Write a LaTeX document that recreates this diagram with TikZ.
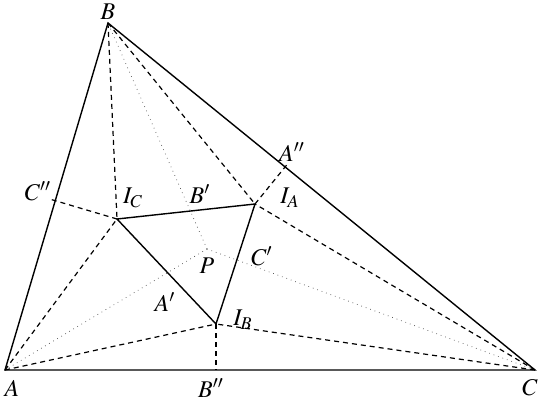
\documentclass[tikz,border=0pt]{standalone}
\usepackage{mathptmx}
\usetikzlibrary{calc}
\begin{document}
\begin{tikzpicture}[x=0.5pt,y=-0.5pt]
\tikzstyle{side}=[line width=0.7pt]
\tikzstyle{bis}=[line width=0.6pt, dash pattern=on 2.5pt off 2pt]
\tikzstyle{ray}=[line width=0.35pt, dotted, black!70]
\tikzstyle{lbl}=[inner sep=0pt, font=\large]
\useasboundingbox (0,0) rectangle (539,401);
% vertices and the point P
\coordinate (A) at (5,370);
\coordinate (B) at (108,23);
\coordinate (C) at (535,370);
\coordinate (P) at (207,249);
% incentres
\coordinate (IA) at (255,204);
\coordinate (IB) at (216,324);
\coordinate (IC) at (117,219);
% feet on the sides
\coordinate (A2) at ($(B)!(IA)!(C)$);
\coordinate (B2) at ($(A)!(IB)!(C)$);
\coordinate (C2) at ($(A)!(IC)!(B)$);
\coordinate (A2e) at ($(IA)!1.06!(A2)$);
\coordinate (C2e) at ($(IC)!1.08!(C2)$);
% triangle
\draw[side] (A) -- (B) -- (C) -- cycle;
% dotted rays from P
\draw[ray] (P) -- (A);
\draw[ray] (P) -- (B);
\draw[ray] (P) -- (C);
% bisectors
\draw[bis] (A) -- (IC);
\draw[bis] (A) -- (IB);
\draw[bis] (B) -- (IC);
\draw[bis] (B) -- (IA);
\draw[bis] (C) -- (IA);
\draw[bis] (C) -- (IB);
% perpendiculars
\draw[bis] (IA) -- (A2e);
\draw[bis] (IB) -- (B2);
\draw[bis] (IC) -- (C2e);
% inner triangle
\draw[side] (IC) -- (IA) -- (IB) -- cycle;
% labels
\node[lbl] (lA) at (12,388) {$A$};
\node[lbl] (lB) at (108,12) {$B$};
\node[lbl] (lC) at (530,388) {$C$};
\node[lbl] (lP) at (207,266) {$P$};
\node[lbl] (lA1) at (165,302) {$A'$};
\node[lbl] (lB1) at (200,194) {$B'$};
\node[lbl] (lC1) at (262,256) {$C'$};
\node[lbl] (lA2) at (292,152) {$A''$};
\node[lbl] (lB2) at (211,388) {$B''$};
\node[lbl] (lC2) at (38,191) {$C''$};
\node[lbl] (lIA) at (290,198) {$I_A$};
\node[lbl] (lIB) at (243,320) {$I_B$};
\node[lbl] (lIC) at (133,198) {$I_C$};
\end{tikzpicture}
\end{document}
